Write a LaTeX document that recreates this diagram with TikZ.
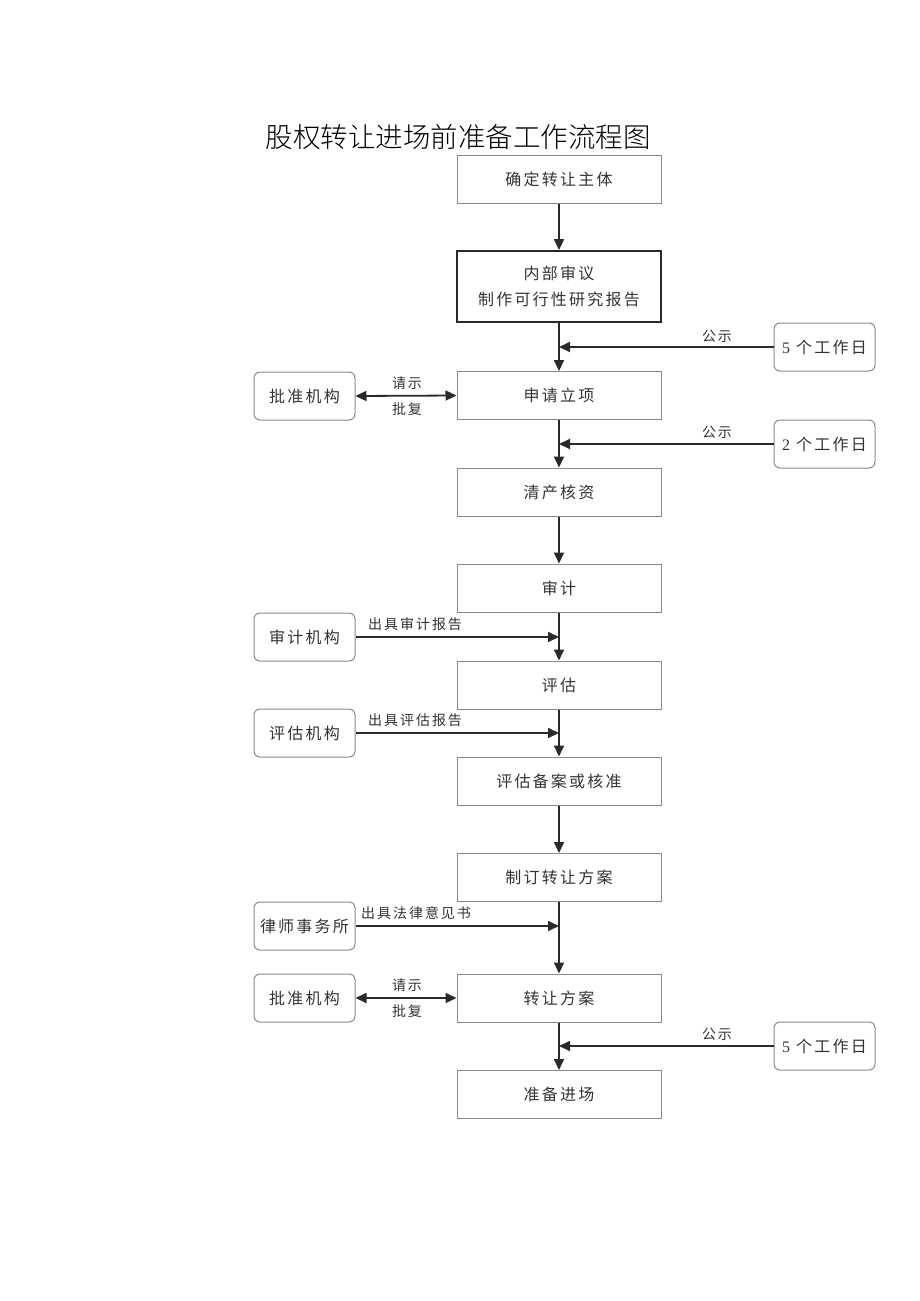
\documentclass[tikz,border=0pt]{standalone}
\usepackage{fontspec}
\setmainfont{Liberation Serif}
\newfontfamily\cjk{Noto Sans CJK SC}[LetterSpace=14]
\newfontfamily\cjktitle{Noto Sans CJK SC Light}
\usetikzlibrary{arrows.meta}
\definecolor{boxline}{HTML}{8A8A8A}
\definecolor{arr}{HTML}{2A2A2A}
\definecolor{txt}{HTML}{333333}
\tikzset{
  mainbox/.style={draw=boxline, line width=1pt, minimum width=204pt, minimum height=48pt, inner sep=0pt, font=\cjk\fontsize{16}{20}\selectfont, text=txt, align=center},
  thickbox/.style={mainbox, draw=arr, line width=1.8pt, minimum height=71pt},
  sidebox/.style={draw=boxline, line width=1pt, rounded corners=6pt, minimum width=101pt, minimum height=48pt, inner sep=0pt, font=\cjk\fontsize{16}{20}\selectfont, text=txt},
  flow/.style={draw=arr, line width=1.8pt, -{Triangle[length=11pt,width=10pt]}},
  both/.style={draw=arr, line width=1.8pt, {Triangle[length=11pt,width=10pt]}-{Triangle[length=11pt,width=10pt]}},
  lbl/.style={font=\cjk\fontsize{14}{16}\selectfont, text=txt, inner sep=0pt}
}
\begin{document}
\begin{tikzpicture}[x=1pt, y=-1pt]
\useasboundingbox (0,0) rectangle (920,1301);
\node[font=\cjktitle\fontsize{27.5}{30}\selectfont, text=black] (title) at (458,137) {股权转让进场前准备工作流程图};
% main column
\node[mainbox] (b1) at (559,179) {确定转让主体};
\node[thickbox] (b2) at (559,286.5) {内部审议\\[6pt]制作可行性研究报告};
\node[mainbox] (b3) at (559,395.5) {申请立项};
\node[mainbox] (b4) at (559,492) {清产核资};
\node[mainbox] (b5) at (559,588) {审计};
\node[mainbox] (b6) at (559,685) {评估};
\node[mainbox] (b7) at (559,781) {评估备案或核准};
\node[mainbox] (b8) at (559,877.5) {制订转让方案};
\node[mainbox] (b9) at (559,998) {转让方案};
\node[mainbox] (b10) at (559,1094.5) {准备进场};
% right boxes
\node[sidebox] (r1) at (824.5,347) {{\rmfamily 5} 个工作日};
\node[sidebox] (r2) at (824.5,444) {{\rmfamily 2} 个工作日};
\node[sidebox] (r3) at (824.5,1046) {{\rmfamily 5} 个工作日};
% left boxes
\node[sidebox] (l1) at (304.5,396) {批准机构};
\node[sidebox] (l2) at (304.5,637) {审计机构};
\node[sidebox] (l3) at (304.5,733) {评估机构};
\node[sidebox] (l4) at (304.5,926) {律师事务所};
\node[sidebox] (l5) at (304.5,998) {批准机构};
% vertical flow
\draw[flow] (b1) -- (b2);
\draw[flow] (b2) -- (b3);
\draw[flow] (b3) -- (b4);
\draw[flow] (b4) -- (b5);
\draw[flow] (b5) -- (b6);
\draw[flow] (b6) -- (b7);
\draw[flow] (b7) -- (b8);
\draw[flow] (b8) -- (b9);
\draw[flow] (b9) -- (b10);
% notice arrows
\draw[flow] (r1.west) -- (r1.west -| b2.south);
\draw[flow] (r2.west) -- (r2.west -| b3.south);
\draw[flow] (r3.west) -- (r3.west -| b9.south);
\node[lbl] (g1) at (717,336) {公示};
\node[lbl] (g2) at (717,432) {公示};
\node[lbl] (g3) at (717,1034) {公示};
% approval arrows
\draw[both] (l1.east) -- (b3.west);
\node[lbl] (q1) at (407,383) {请示};
\node[lbl] (p1) at (407,409) {批复};
\draw[both] (l5.east) -- (b9.west);
\node[lbl] (q2) at (407,985) {请示};
\node[lbl] (p2) at (407,1011) {批复};
% report arrows
\draw[flow] (l2.east) -- (l2.east -| b5.south);
\node[lbl, anchor=west] (t1) at (368,624) {出具审计报告};
\draw[flow] (l3.east) -- (l3.east -| b6.south);
\node[lbl, anchor=west] (t2) at (368,720) {出具评估报告};
\draw[flow] (l4.east) -- (l4.east -| b8.south);
\node[lbl, anchor=west] (t3) at (361,913) {出具法律意见书};
\end{tikzpicture}
\end{document}
